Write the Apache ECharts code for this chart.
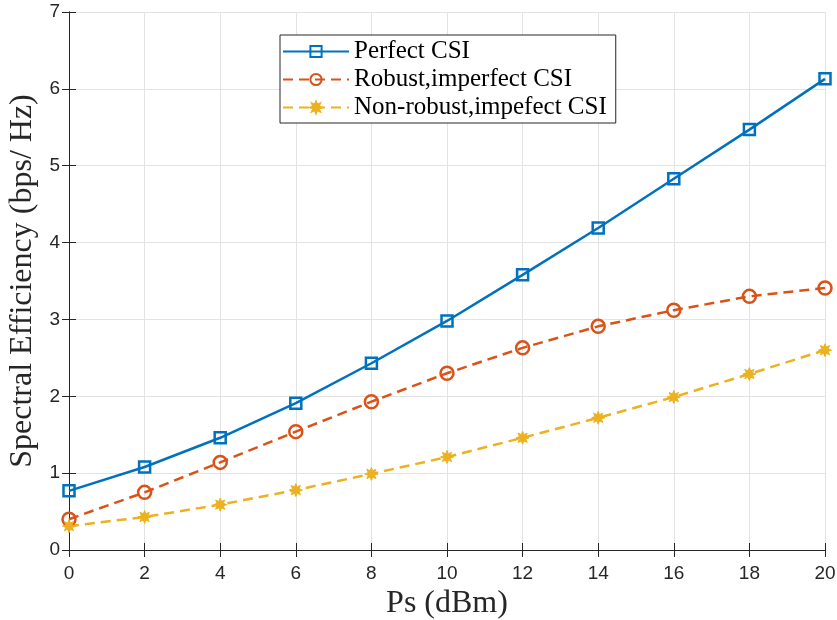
<!DOCTYPE html>
<html>
<head>
<meta charset="utf-8">
<script src="https://cdn.jsdelivr.net/npm/echarts@6/dist/echarts.min.js"></script>
<style>
  html, body { margin: 0; padding: 0; background: #fff; }
  #chart { width: 837px; height: 620px; }
</style>
</head>
<body>
<div id="chart"></div>
<script>
var psValues = [0, 2, 4, 6, 8, 10, 12, 14, 16, 18, 20];
var perfectCsi = [0.77, 1.08, 1.46, 1.91, 2.43, 2.98, 3.58, 4.19, 4.83, 5.47, 6.13];
var robustCsi = [0.40, 0.75, 1.14, 1.54, 1.93, 2.30, 2.63, 2.91, 3.12, 3.30, 3.41];
var nonRobustCsi = [0.31, 0.43, 0.59, 0.78, 0.99, 1.21, 1.46, 1.72, 1.99, 2.29, 2.60];
var seriesNames = ['Perfect CSI', 'Robust,imperfect CSI', 'Non-robust,impefect CSI'];

function pairs(vals) {
    var out = [];
    for (var i = 0; i < psValues.length; i++) {
        out.push([psValues[i], vals[i]]);
    }
    return out;
}

// asterisk-like marker
var starPath = 'path://M0,-10 L2,-4.8 L7.1,-7.1 L4.8,-2 L10,0 L4.8,2 L7.1,7.1 L2,4.8 L0,10 L-2,4.8 L-7.1,7.1 L-4.8,2 L-10,0 L-4.8,-2 L-7.1,-7.1 L-2,-4.8 Z';

var axisLineStyle = { color: '#262626', width: 1 };
var tickFont = { color: '#262626', fontSize: 19, fontFamily: 'Liberation Sans' };

var myChart = echarts.init(document.getElementById('chart'));
var option = {
    animation: false,
    backgroundColor: '#fff',
    grid: { left: 69, right: 12, top: 12, bottom: 70, containLabel: false, outerBoundsMode: 'none' },
    legend: {
        left: 280,
        top: 35,
        orient: 'vertical',
        itemWidth: 66,
        itemHeight: 14,
        itemGap: 3,
        padding: [4, 9, 3, 2],
        borderColor: '#262626',
        borderWidth: 1,
        borderRadius: 0,
        backgroundColor: '#fff',
        textStyle: { fontFamily: 'Liberation Serif', fontSize: 25, lineHeight: 25, color: '#000' },
        data: seriesNames
    },
    xAxis: [{
        type: 'value',
        min: 0, max: 20, interval: 2,
        name: 'Ps (dBm)',
        nameLocation: 'middle',
        nameGap: 38,
        nameTextStyle: { fontFamily: 'Liberation Serif', fontSize: 32, color: '#262626' },
        axisLine: { lineStyle: axisLineStyle },
        axisTick: { inside: true, length: 7, lineStyle: axisLineStyle },
        axisLabel: Object.assign({ margin: 14 }, tickFont),
        splitLine: { show: true, lineStyle: { color: '#e3e3e3', width: 1 } }
    }, {
        type: 'value',
        position: 'top',
        min: 0, max: 20, interval: 2,
        axisLine: { show: true, lineStyle: axisLineStyle },
        axisTick: { inside: true, length: 7, lineStyle: axisLineStyle },
        axisLabel: { show: false },
        splitLine: { show: false }
    }],
    yAxis: [{
        type: 'value',
        min: 0, max: 7, interval: 1,
        name: 'Spectral Efficiency (bps/ Hz)',
        nameLocation: 'middle',
        nameGap: 25,
        nameTextStyle: { fontFamily: 'Liberation Serif', fontSize: 32, color: '#262626' },
        axisLine: { show: true, lineStyle: axisLineStyle },
        axisTick: { show: true, inside: true, length: 7, lineStyle: axisLineStyle },
        axisLabel: Object.assign({ margin: 9 }, tickFont),
        splitLine: { show: true, lineStyle: { color: '#e3e3e3', width: 1 } }
    }, {
        type: 'value',
        position: 'right',
        min: 0, max: 7, interval: 1,
        axisLine: { show: true, lineStyle: axisLineStyle },
        axisTick: { show: true, inside: true, length: 7, lineStyle: axisLineStyle },
        axisLabel: { show: false },
        splitLine: { show: false }
    }],
    series: [{
        name: seriesNames[0],
        type: 'line',
        data: pairs(perfectCsi),
        color: '#0072BD',
        symbol: 'rect',
        symbolSize: 11,
        showAllSymbol: true,
        lineStyle: { width: 2.5, color: '#0072BD' },
        itemStyle: { color: 'transparent', borderColor: '#0072BD', borderWidth: 2.5 }
    }, {
        name: seriesNames[1],
        type: 'line',
        data: pairs(robustCsi),
        color: '#D95319',
        symbol: 'circle',
        symbolSize: 13,
        lineStyle: { width: 2.5, color: '#D95319', type: [10, 6] },
        itemStyle: { color: 'transparent', borderColor: '#D95319', borderWidth: 2.5 }
    }, {
        name: seriesNames[2],
        type: 'line',
        data: pairs(nonRobustCsi),
        color: '#EDB120',
        symbol: starPath,
        symbolSize: 13,
        lineStyle: { width: 2.5, color: '#EDB120', type: [10, 6] },
        itemStyle: { color: '#EDB120', borderColor: '#EDB120', borderWidth: 1 }
    }]
};
myChart.setOption(option);
</script>
</body>
</html>
